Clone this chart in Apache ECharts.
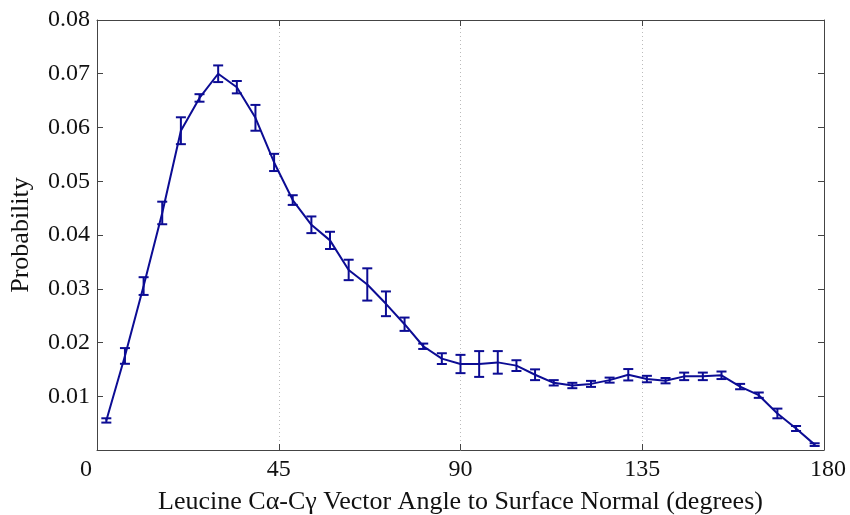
<!DOCTYPE html>
<html>
<head>
<meta charset="utf-8">
<script src="https://cdn.jsdelivr.net/npm/echarts@6/dist/echarts.min.js"></script>
<style>html,body{margin:0;padding:0;background:#fff}#c{width:850px;height:515px}</style>
</head>
<body>
<div id="c"></div>
<script>
const xTicks = [0, 45, 90, 135, 180];
const angles = [2.31, 6.92, 11.54, 16.15, 20.77, 25.38, 30.00, 34.62, 39.23, 43.85,
  48.46, 53.08, 57.69, 62.31, 66.92, 71.54, 76.15, 80.77, 85.38, 90.00,
  94.62, 99.23, 103.85, 108.46, 113.08, 117.69, 122.31, 126.92, 131.54, 136.15,
  140.77, 145.38, 150.00, 154.62, 159.23, 163.85, 168.46, 173.08, 177.69];
const probability = [0.0055, 0.0175, 0.0305, 0.0441, 0.0594, 0.0655, 0.0700, 0.0675, 0.0618, 0.0535,
  0.0465, 0.0419, 0.0390, 0.0335, 0.0308, 0.0272, 0.0234, 0.0193, 0.0170, 0.0160,
  0.0160, 0.0163, 0.0157, 0.0140, 0.0125, 0.0120, 0.0123, 0.0130, 0.0140, 0.0132,
  0.0129, 0.0137, 0.0137, 0.0139, 0.0118, 0.0102, 0.0068, 0.0040, 0.0010];
const errors = [0.0004, 0.00146, 0.00165, 0.0021, 0.0025, 0.0007, 0.00155, 0.00115, 0.0024, 0.0016,
  0.0009, 0.00155, 0.0016, 0.0019, 0.0030, 0.0023, 0.00124, 0.0005, 0.0010, 0.0017,
  0.0024, 0.0021, 0.0010, 0.0010, 0.0005, 0.0005, 0.00056, 0.00047, 0.00106, 0.0006,
  0.0005, 0.0007, 0.0007, 0.0007, 0.0005, 0.0005, 0.0009, 0.00047, 0.00025];

const FONT = 'Liberation Serif';
const LINE = '#0c0c94';
const AXC = '#444';

const lineData = angles.map((a, i) => [a, probability[i]]);
const errData = angles.map((a, i) => [a, probability[i] - errors[i], probability[i] + errors[i]]);

const chart = echarts.init(document.getElementById('c'), null, {renderer: 'canvas'});
chart.setOption({
  animation: false,
  backgroundColor: '#fff',
  grid: {left: 97, right: 26, top: 20, bottom: 65, show: false, containLabel: false, outerBoundsMode: 'none'},
  xAxis: [{
    type: 'value', min: xTicks[0], max: xTicks[xTicks.length - 1], interval: 45,
    position: 'bottom',
    name: 'Leucine C\u03b1-C\u03b3 Vector Angle to Surface Normal (degrees)',
    nameLocation: 'middle', nameGap: 39,
    nameTextStyle: {fontFamily: FONT, fontSize: 26, color: '#111'},
    axisLine: {show: true, onZero: false, lineStyle: {color: AXC, width: 1}},
    axisTick: {show: true, inside: true, length: 6, lineStyle: {color: AXC}},
    axisLabel: {fontFamily: FONT, fontSize: 24, color: '#111', margin: 8,
      formatter: v => v === 0 ? '{z|0}' : (v === 180 ? '{e|180}' : String(v)),
      rich: {z: {fontFamily: FONT, fontSize: 24, color: '#111', padding: [0, 22, 0, 0]},
             e: {fontFamily: FONT, fontSize: 24, color: '#111', padding: [0, 0, 0, 8]}}},
    splitLine: {show: true, showMinLine: false, showMaxLine: false,
      lineStyle: {color: '#bbb', type: [1, 3], width: 1}}
  }, {
    type: 'value', min: xTicks[0], max: xTicks[xTicks.length - 1], interval: 45,
    position: 'top',
    axisLine: {show: true, onZero: false, lineStyle: {color: AXC, width: 1}},
    axisTick: {show: true, inside: true, length: 6, lineStyle: {color: AXC}},
    axisLabel: {show: false}, splitLine: {show: false}
  }],
  yAxis: [{
    type: 'value', min: 0, max: 0.08, interval: 0.01,
    position: 'left',
    name: 'Probability', nameLocation: 'middle', nameGap: 63, nameRotate: 90,
    nameTextStyle: {fontFamily: FONT, fontSize: 26, color: '#111'},
    axisLine: {show: true, onZero: false, lineStyle: {color: AXC, width: 1}},
    axisTick: {show: true, inside: true, length: 6, lineStyle: {color: AXC}},
    axisLabel: {fontFamily: FONT, fontSize: 24, color: '#111', margin: 7,
      formatter: v => v === 0 ? '' : v.toFixed(2)},
    splitLine: {show: false}
  }, {
    type: 'value', min: 0, max: 0.08, interval: 0.01,
    position: 'right',
    axisLine: {show: true, onZero: false, lineStyle: {color: AXC, width: 1}},
    axisTick: {show: true, inside: true, length: 6, lineStyle: {color: AXC}},
    axisLabel: {show: false}, splitLine: {show: false}
  }],
  series: [{
    type: 'line', data: lineData, xAxisIndex: 0, yAxisIndex: 0,
    showSymbol: false, symbol: 'none',
    lineStyle: {color: LINE, width: 2}, z: 3
  }, {
    type: 'custom', data: errData, xAxisIndex: 0, yAxisIndex: 0, z: 4,
    renderItem: function (params, api) {
      const x = api.value(0);
      const lo = api.coord([x, api.value(1)]);
      const hi = api.coord([x, api.value(2)]);
      const w = 5;
      const st = {stroke: LINE, lineWidth: 2};
      return {type: 'group', children: [
        {type: 'line', shape: {x1: lo[0], y1: lo[1], x2: hi[0], y2: hi[1]}, style: st},
        {type: 'line', shape: {x1: lo[0] - w, y1: lo[1], x2: lo[0] + w, y2: lo[1]}, style: st},
        {type: 'line', shape: {x1: hi[0] - w, y1: hi[1], x2: hi[0] + w, y2: hi[1]}, style: st}
      ]};
    }
  }]
});
</script>
</body>
</html>
